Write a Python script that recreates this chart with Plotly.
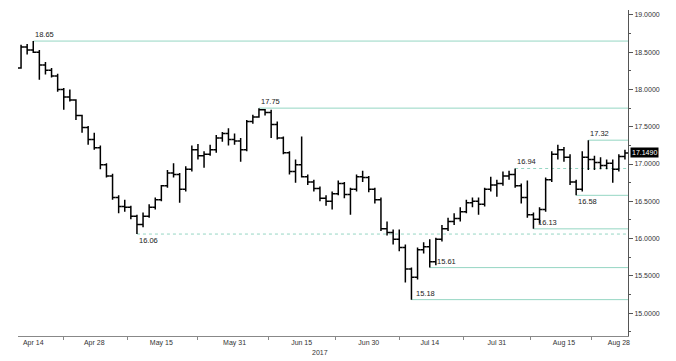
import plotly.graph_objects as go
import pandas as pd

# Trading days (weekdays) shown on the chart
dates = [d.strftime("%Y-%m-%d") for d in pd.bdate_range("2017-04-12", "2017-08-29")]

opens = [18.29, 18.57, 18.53, 18.50, 18.33, 18.26, 18.18, 18.00, 17.90, 17.86,
         17.65, 17.49, 17.33, 17.22, 16.99, 16.84, 16.55, 16.43, 16.42, 16.30,
         16.19, 16.30, 16.42, 16.52, 16.71, 16.88, 16.86, 16.66, 16.93, 17.19,
         17.11, 17.13, 17.19, 17.35, 17.41, 17.33, 17.31, 17.19, 17.57, 17.63,
         17.73, 17.69, 17.53, 17.35, 17.15, 16.90, 16.99, 16.83, 16.76, 16.67,
         16.54, 16.50, 16.60, 16.74, 16.59, 16.66, 16.83, 16.82, 16.66, 16.52,
         16.13, 16.08, 15.99, 15.88, 15.59, 15.48, 15.85, 15.89, 15.69, 15.99,
         16.13, 16.23, 16.27, 16.36, 16.48, 16.50, 16.46, 16.66, 16.72, 16.74,
         16.84, 16.86, 16.71, 16.55, 16.32, 16.26, 16.39, 16.79, 17.13, 17.19,
         17.09, 16.76, 16.66, 17.09, 17.06, 17.02, 16.98, 17.01, 16.93, 17.10]
highs = [18.60, 18.61, 18.65, 18.53, 18.37, 18.29, 18.21, 18.02, 18.00, 17.87,
         17.66, 17.51, 17.42, 17.25, 17.01, 16.87, 16.58, 16.52, 16.44, 16.32,
         16.35, 16.46, 16.55, 16.72, 16.92, 17.01, 16.88, 16.97, 17.25, 17.27,
         17.17, 17.26, 17.39, 17.43, 17.48, 17.41, 17.35, 17.59, 17.66, 17.75,
         17.74, 17.73, 17.57, 17.37, 17.17, 17.06, 17.37, 16.86, 16.79, 16.70,
         16.58, 16.63, 16.78, 16.76, 16.68, 16.86, 16.91, 16.84, 16.68, 16.55,
         16.23, 16.12, 16.12, 15.92, 15.61, 15.88, 15.95, 15.99, 16.01, 16.18,
         16.28, 16.34, 16.42, 16.52, 16.55, 16.55, 16.68, 16.83, 16.79, 16.90,
         16.91, 16.94, 16.74, 16.78, 16.35, 16.42, 16.82, 17.17, 17.26, 17.23,
         17.13, 16.79, 17.17, 17.32, 17.11, 17.09, 17.06, 17.06, 17.13, 17.19]
lows = [18.28, 18.47, 18.49, 18.13, 18.20, 18.16, 17.97, 17.73, 17.84, 17.59,
        17.42, 17.26, 17.19, 16.93, 16.82, 16.52, 16.34, 16.36, 16.26, 16.06,
        16.15, 16.28, 16.39, 16.50, 16.68, 16.82, 16.48, 16.63, 16.90, 17.06,
        16.95, 17.11, 17.15, 17.30, 17.25, 17.26, 17.03, 17.17, 17.54, 17.62,
        17.65, 17.35, 17.33, 17.13, 16.86, 16.75, 16.82, 16.72, 16.63, 16.50,
        16.44, 16.39, 16.58, 16.54, 16.32, 16.63, 16.76, 16.62, 16.47, 16.10,
        16.04, 15.92, 15.83, 15.41, 15.18, 15.45, 15.80, 15.61, 15.64, 15.96,
        16.10, 16.18, 16.23, 16.34, 16.42, 16.32, 16.43, 16.63, 16.56, 16.71,
        16.79, 16.68, 16.47, 16.28, 16.13, 16.20, 16.36, 16.76, 17.06, 17.03,
        16.72, 16.58, 16.63, 16.92, 16.92, 16.93, 16.93, 16.75, 16.90, 17.06]
closes = [18.57, 18.53, 18.50, 18.33, 18.26, 18.18, 18.00, 17.90, 17.86, 17.65,
          17.49, 17.33, 17.22, 16.99, 16.84, 16.55, 16.43, 16.42, 16.30, 16.19,
          16.30, 16.42, 16.52, 16.71, 16.88, 16.86, 16.66, 16.93, 17.19, 17.11,
          17.13, 17.19, 17.35, 17.41, 17.33, 17.31, 17.19, 17.57, 17.63, 17.73,
          17.69, 17.53, 17.35, 17.15, 16.90, 16.99, 16.83, 16.76, 16.67, 16.54,
          16.50, 16.60, 16.74, 16.59, 16.66, 16.83, 16.82, 16.66, 16.52, 16.13,
          16.08, 15.99, 15.88, 15.59, 15.48, 15.85, 15.89, 15.69, 15.99, 16.13,
          16.23, 16.27, 16.36, 16.48, 16.50, 16.46, 16.66, 16.72, 16.74, 16.84,
          16.86, 16.71, 16.55, 16.32, 16.26, 16.39, 16.79, 17.13, 17.19, 17.09,
          16.76, 16.66, 17.09, 17.06, 17.02, 16.98, 17.01, 16.93, 17.10, 17.149]

# X tick labels
tick_dates = ["2017-04-14", "2017-04-28", "2017-05-15", "2017-05-31", "2017-06-15",
              "2017-06-30", "2017-07-14", "2017-07-31", "2017-08-15", "2017-08-28"]
tick_labels = ["Apr 14", "Apr 28", "May 15", "May 31", "Jun 15",
               "Jun 30", "Jul 14", "Jul 31", "Aug 15", "Aug 28"]

# Y ticks
y_ticks = [15.0, 15.5, 16.0, 16.5, 17.0, 17.5, 18.0, 18.5, 19.0]

# Marked levels
level_values = [18.65, 17.75, 17.32, 16.94, 16.58, 16.13, 16.06, 15.61, 15.18]
level_dates = ["2017-04-14", "2017-06-06", "2017-08-21", "2017-08-03", "2017-08-17",
               "2017-08-08", "2017-05-09", "2017-07-14", "2017-07-11"]
level_dashed = [False, False, False, True, False, False, True, False, False]
level_below = [False, False, False, False, True, False, True, False, False]
level_label_shift = [0, 0, 0, 0, 0, 3, 0, 5, 3]

last_price = closes[-1]

x_idx = list(range(len(dates)))
tick_idx = [dates.index(d) for d in tick_dates]
minor_idx = [(a + b) / 2 for a, b in zip(tick_idx[:-1], tick_idx[1:])]
x_max = len(dates) - 0.5

LINE_COL = "#95d6c3"
FONT = "Liberation Sans"

fig = go.Figure()
fig.add_trace(go.Ohlc(
    x=x_idx, open=opens, high=highs, low=lows, close=closes,
    increasing=dict(line=dict(color="black", width=1.5)),
    decreasing=dict(line=dict(color="black", width=1.5)),
    tickwidth=0.5, hoverinfo="skip", showlegend=False,
))

for val, d, dashed, below, sh in zip(level_values, level_dates, level_dashed,
                                     level_below, level_label_shift):
    i0 = dates.index(d)
    fig.add_shape(type="line", xref="x", yref="y", x0=i0, x1=x_max, y0=val, y1=val,
                  line=dict(color=LINE_COL, width=1, dash="3px,3px" if dashed else "solid"),
                  layer="below")
    fig.add_annotation(x=i0, y=val, xref="x", yref="y", text=f"{val:.2f}",
                       showarrow=False, xanchor="left",
                       yanchor="top" if below else "bottom",
                       xshift=sh, yshift=0,
                       font=dict(family=FONT, size=7.5, color="#222"))

fig.add_annotation(x=1, y=last_price, xref="paper", yref="y", text=f"{last_price:.4f}",
                   showarrow=False, xanchor="left", yanchor="middle", xshift=2,
                   bgcolor="black", borderpad=1,
                   font=dict(family=FONT, size=7, color="white"))

fig.add_annotation(x=0.495, y=-0.05, xref="paper", yref="paper", text="2017",
                   showarrow=False, xanchor="center", yanchor="middle",
                   font=dict(family=FONT, size=7, color="#333"))

# page body has an 8px default margin, so the figure is sized to fit the window
fig.update_layout(
    width=668, height=353,
    margin=dict(l=10, r=48, t=2, b=25),
    paper_bgcolor="white", plot_bgcolor="white",
    showlegend=False,
    font=dict(family=FONT, size=7, color="#333"),
)
fig.update_xaxes(
    range=[-0.5, x_max], tickmode="array", tickvals=tick_idx, ticktext=tick_labels,
    ticks="", showgrid=False, zeroline=False, showline=True,
    linecolor="#888", linewidth=1, rangeslider=dict(visible=False),
    minor=dict(tickmode="array", tickvals=minor_idx, ticks="outside", ticklen=3,
               tickcolor="#888", showgrid=False),
    tickfont=dict(family=FONT, size=7, color="#333"),
)
fig.update_yaxes(
    side="right", range=[14.692, 19.067], tickmode="array", tickvals=y_ticks,
    ticktext=[f"{v:.4f}" for v in y_ticks], ticks="outside", ticklen=4,
    tickcolor="#555", showline=True, linecolor="#555", linewidth=1,
    showgrid=False, zeroline=False,
    minor=dict(dtick=0.25, tick0=0, ticks="outside", ticklen=2, tickcolor="#555",
               showgrid=False),
    tickfont=dict(family=FONT, size=7, color="#333"),
)

fig.write_html("out.html")
